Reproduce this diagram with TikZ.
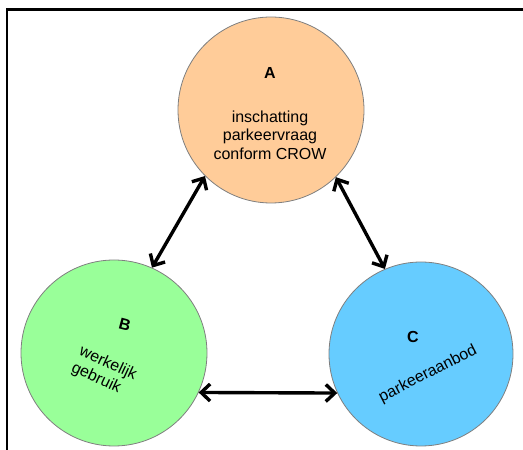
\documentclass[tikz,border=0pt]{standalone}
\usepackage{fontspec}
\setmainfont{Liberation Sans}
\usetikzlibrary{arrows.meta, positioning}
\definecolor{cpeach}{HTML}{FFCC99}
\definecolor{cgreen}{HTML}{99FF99}
\definecolor{cblue}{HTML}{66CCFF}
\definecolor{cgrey}{HTML}{7F7F7F}
\tikzset{
  every picture/.style={font=\fontsize{16}{18.5}\selectfont},
  bubble/.style={circle, draw=cgrey, line width=0.8pt, fill=#1, minimum size=186pt, inner sep=0pt},
  bubble/.default=white,
  letter/.style={font=\fontsize{16}{18.5}\selectfont\bfseries},
  caption/.style={align=#1, inner sep=0pt},
  caption/.default=center,
  link/.style={{Straight Barb[length=9pt, width=17pt]}-{Straight Barb[length=9pt, width=17pt]}, line width=3.4pt},
}

\begin{document}
\begin{tikzpicture}[x=1pt, y=1pt]
  \useasboundingbox (0,0) rectangle (523,450);
  % frame
  \draw[line width=2.2pt] (7,0) -- (7,440.5) -- (523,440.5);

  \node[bubble=cpeach] (A) at (271,340) {};
  \node[bubble=cgreen] (B) at (114,97) {};
  \node[bubble=cblue, minimum size=184pt] (C) at (421,96) {};

  \node[letter] (labA) at (270,377) {A};
  \node[caption] (txtA) at (270,315) {inschatting\\parkeervraag\\conform CROW};

  \node[letter, rotate=-15] (labB) at (125,125) {B};
  \node[caption=left, rotate=-25] (txtB) at (104,78) {werkelijk\\gebruik};

  \node[letter] (labC) at (413,113) {C};
  \node[caption, rotate=27] (txtC) at (428,76) {parkeeraanbod};

  \draw[link] (A.225) -- (B.66);
  \draw[link] (A.314) -- (C.113);
  \draw[link] (B.335) -- (C.205);
\end{tikzpicture}
\end{document}
